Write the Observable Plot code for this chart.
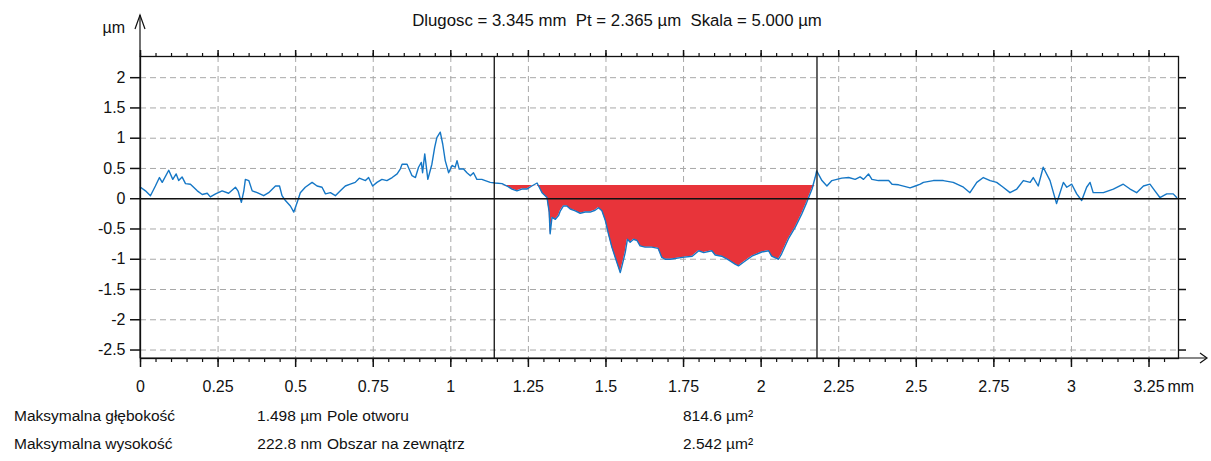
<!DOCTYPE html>
<html>
<head>
<meta charset="utf-8">
<script src="https://cdn.jsdelivr.net/npm/d3@7"></script>
<script src="https://cdn.jsdelivr.net/npm/@observablehq/plot@0.6"></script>
<style>
  html, body { margin: 0; padding: 0; background: #fff; }
  body { width: 1211px; height: 461px; position: relative; overflow: hidden;
         font-family: "Liberation Sans", Arial, sans-serif; color: #111; }
  #title { position: absolute; left: 0; width: 1234px; top: 11px; text-align: center; font-size: 16.8px; white-space: pre; }
  #chart { position: absolute; left: 0; top: 0; }
  .stat { position: absolute; font-size: 15.5px; white-space: pre; }
</style>
</head>
<body>
<div id="chart"></div>
<div id="title"></div>
<div id="stats"></div>
<script>
// ---- Data (profile: position in mm, height in µm) ----
const profileX = [
  0.000,0.016,0.032,0.048,0.061,0.070,0.091,0.104,0.115,0.123,0.134,0.145,0.161,0.183,0.199,0.215,0.225,0.242,0.263,0.284,
  0.306,0.315,0.325,0.333,0.338,0.349,0.360,0.376,0.397,0.413,0.435,0.448,0.456,0.467,0.483,0.494,0.505,0.515,0.531,0.553,
  0.569,0.585,0.596,0.612,0.628,0.644,0.660,0.676,0.692,0.705,0.725,0.735,0.748,0.762,0.778,0.794,0.811,0.827,0.837,0.843,
  0.859,0.875,0.886,0.896,0.905,0.909,0.916,0.926,0.939,0.948,0.955,0.966,0.974,0.982,0.993,1.004,1.014,1.020,1.027,1.041,
  1.052,1.063,1.073,1.084,1.100,1.111,1.127,1.143,1.165,1.181,1.197,1.213,1.229,1.245,1.261,1.278,1.285,1.294,1.310,1.317,
  1.320,1.326,1.337,1.347,1.353,1.363,1.374,1.385,1.401,1.417,1.433,1.449,1.465,1.476,1.487,1.498,1.508,1.519,1.530,1.541,
  1.546,1.553,1.562,1.569,1.578,1.589,1.600,1.610,1.626,1.648,1.668,1.680,1.691,1.707,1.746,1.778,1.799,1.815,1.841,1.852,
  1.873,1.895,1.916,1.927,1.943,1.970,2.002,2.024,2.034,2.056,2.066,2.088,2.110,2.131,2.147,2.164,2.174,2.179,2.196,2.212,
  2.228,2.244,2.260,2.282,2.303,2.319,2.330,2.346,2.357,2.378,2.411,2.422,2.443,2.465,2.480,2.497,2.513,2.523,2.555,2.587,
  2.619,2.652,2.673,2.695,2.716,2.738,2.759,2.780,2.802,2.824,2.845,2.867,2.877,2.893,2.909,2.931,2.952,2.974,2.985,3.001,
  3.017,3.033,3.049,3.060,3.070,3.103,3.135,3.167,3.189,3.210,3.232,3.253,3.269,3.285,3.307,3.328,3.339
];
const profileY = [
  0.19,0.13,0.05,0.21,0.35,0.27,0.47,0.32,0.41,0.30,0.36,0.25,0.24,0.13,0.07,0.09,0.03,0.08,0.13,0.09,
  0.19,0.12,-0.06,0.13,0.32,0.30,0.13,0.10,0.05,0.10,0.21,0.21,0.05,-0.03,-0.12,-0.22,-0.06,0.10,0.19,0.27,
  0.21,0.19,0.08,0.10,0.05,0.13,0.21,0.24,0.27,0.34,0.30,0.35,0.21,0.27,0.32,0.30,0.35,0.41,0.49,0.57,
  0.57,0.38,0.35,0.52,0.60,0.43,0.74,0.32,0.57,0.85,1.01,1.10,0.90,0.63,0.43,0.55,0.52,0.63,0.49,0.49,
  0.43,0.38,0.43,0.32,0.32,0.30,0.27,0.26,0.25,0.21,0.16,0.13,0.16,0.16,0.21,0.26,0.19,0.10,0.02,-0.22,
  -0.58,-0.31,-0.34,-0.28,-0.20,-0.12,-0.12,-0.17,-0.20,-0.24,-0.22,-0.22,-0.19,-0.15,-0.20,-0.36,-0.58,-0.80,-0.97,-1.14,
  -1.22,-1.08,-0.89,-0.67,-0.72,-0.67,-0.69,-0.78,-0.80,-0.80,-0.82,-0.97,-1.00,-1.00,-0.97,-0.95,-0.86,-0.89,-0.86,-0.93,
  -0.95,-1.01,-1.08,-1.11,-1.05,-0.95,-0.88,-0.86,-0.95,-1.00,-0.91,-0.66,-0.47,-0.25,-0.06,0.16,0.35,0.46,0.30,0.21,
  0.30,0.32,0.34,0.35,0.32,0.36,0.32,0.41,0.32,0.30,0.30,0.24,0.23,0.20,0.18,0.21,0.24,0.27,0.30,0.30,
  0.27,0.19,0.10,0.27,0.35,0.30,0.27,0.19,0.10,0.16,0.30,0.27,0.35,0.21,0.52,0.30,-0.08,0.27,0.19,0.24,
  0.08,-0.03,0.19,0.27,0.10,0.10,0.16,0.24,0.16,0.10,0.21,0.24,0.13,0.02,0.08,0.08,0.02
];
const xDomain = [0, 3.345];
const yDomain = [-2.64, 2.35];
const xTicks = [0, 0.25, 0.5, 0.75, 1, 1.25, 1.5, 1.75, 2, 2.25, 2.5, 2.75, 3, 3.25];
const yTicks = [-2.5, -2, -1.5, -1, -0.5, 0, 0.5, 1, 1.5, 2];
const xMinorTicks = d3.range(0, 3.345, 0.05);
const cursors = [1.14, 2.18];           // measurement cursors (mm)
const fillLevel = 0.22;                 // reference level of the hole area (µm)
const titleText = "Dlugosc = 3.345 mm  Pt = 2.365 µm  Skala = 5.000 µm";
const yUnit = "µm", xUnit = "mm";
const statLabels = ["Maksymalna głębokość", "Maksymalna wysokość"];
const statValues = ["1.498 µm", "222.8 nm"];
const areaLabels = ["Pole otworu", "Obszar na zewnątrz"];
const areaValues = ["814.6 µm²", "2.542 µm²"];

const profile = profileX.map((x, i) => ({x, y: profileY[i]}));
const hole = profile.filter(d => d.x >= cursors[0] && d.x <= cursors[1]);
const fmt = d => String(d);

function decorations(index, scales, values, dims) {
  const {marginLeft: l, marginTop: t, marginBottom: b, width: w, height: h} = dims;
  const g = d3.create("svg:g").attr("fill", "none").attr("stroke", "#111").attr("stroke-width", 1.2);
  const yb = h - b;
  g.append("line").attr("x1", l).attr("x2", l).attr("y1", yb).attr("y2", t - 41);
  g.append("path").attr("d", `M${l - 5},${t - 27}L${l},${t - 41}L${l + 5},${t - 27}`);
  g.append("line").attr("x1", l).attr("x2", w - 5).attr("y1", yb).attr("y2", yb);
  g.append("path").attr("d", `M${w - 11},${yb - 5}L${w - 4},${yb}L${w - 11},${yb + 5}`);
  g.append("text").attr("fill", "#111").attr("stroke", "none").attr("text-anchor", "end")
    .attr("x", l - 15).attr("y", t - 29).attr("dy", "0.35em").text(yUnit);
  g.append("text").attr("fill", "#111").attr("stroke", "none").attr("text-anchor", "start")
    .attr("x", scales.x(3.25) + 19).attr("y", yb + 23).attr("dy", "0.71em").text(xUnit);
  return g.node();
}

const chart = Plot.plot({
  width: 1211,
  height: 395,
  marginLeft: 140,
  marginRight: 33,
  marginTop: 56,
  marginBottom: 37,
  style: {fontFamily: "'Liberation Sans', Arial, sans-serif", fontSize: "16px", color: "#111", background: "#fff", overflow: "visible"},
  x: {domain: xDomain, label: null},
  y: {domain: yDomain, label: null},
  marks: [
    Plot.gridY(yTicks, {stroke: "#a8a8a8", strokeOpacity: 1, strokeDasharray: "6,4"}),
    Plot.gridX(xTicks.filter(d => d > 0), {stroke: "#a8a8a8", strokeOpacity: 1, strokeDasharray: "6,4"}),
    Plot.areaY(hole, {x: "x", y1: () => fillLevel, y2: d => Math.min(d.y, fillLevel), fill: "#e8343a", curve: "linear"}),
    Plot.lineY(profile, {x: "x", y: "y", stroke: "#1577c6", strokeWidth: 1.4}),
    Plot.ruleY([0], {stroke: "#111", strokeWidth: 1.5}),
    Plot.ruleX(cursors, {stroke: "#111", strokeWidth: 1.3}),
    Plot.frame({stroke: "#111", strokeWidth: 1.3}),
    Plot.axisX(xMinorTicks, {anchor: "bottom", tickSize: 4, text: null, strokeWidth: 1.2, label: null}),
    Plot.axisX(xMinorTicks, {anchor: "top", tickSize: 4, text: null, strokeWidth: 1.2, label: null}),
    Plot.axisX(xTicks, {anchor: "bottom", tickSize: 9, tickPadding: 13, tickFormat: fmt, strokeWidth: 1.5, label: null}),
    Plot.axisX(xTicks, {anchor: "top", tickSize: 7, text: null, strokeWidth: 1.5, label: null}),
    Plot.axisY(yTicks, {anchor: "left", tickSize: 10, tickPadding: 5, tickFormat: fmt, strokeWidth: 1.5, label: null}),
    Plot.axisY(yTicks, {anchor: "right", tickSize: 7, text: null, strokeWidth: 1.5, label: null}),
    decorations
  ]
});
document.getElementById("chart").append(chart);
document.getElementById("title").textContent = titleText;

const stats = document.getElementById("stats");
const rowsY = [407, 435];
statLabels.forEach((s, i) => {
  const add = (txt, css) => { const d = document.createElement("div"); d.className = "stat"; d.textContent = txt; Object.assign(d.style, css); stats.append(d); };
  add(s, {left: "14px", top: rowsY[i] + "px"});
  add(statValues[i], {right: (1211 - 322) + "px", top: rowsY[i] + "px"});
  add(areaLabels[i], {left: "327px", top: rowsY[i] + "px"});
  add(areaValues[i], {left: "683px", top: rowsY[i] + "px"});
});
</script>
</body>
</html>
